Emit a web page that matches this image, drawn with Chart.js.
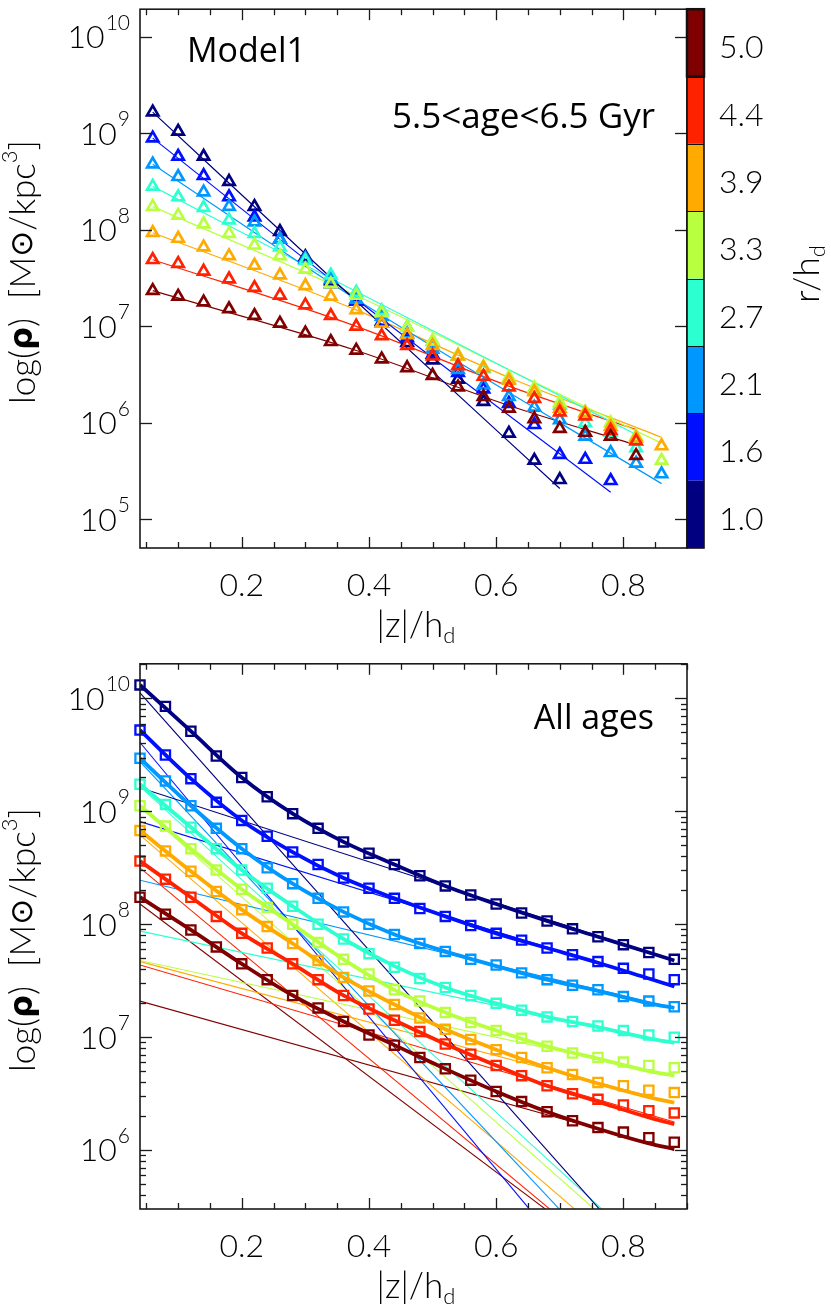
<!DOCTYPE html>
<html><head><meta charset="utf-8">
<script src="https://cdn.jsdelivr.net/npm/chart.js@4.4.1/dist/chart.umd.min.js"></script>
<style>
html,body{margin:0;padding:0;background:#fff;}
#wrap{position:relative;width:831px;height:1309px;overflow:hidden;}
#c1{position:absolute;left:0;top:0;}
#c2{position:absolute;left:0;top:655px;}
</style></head><body>
<div id="wrap"><canvas id="c1" width="831" height="655"></canvas><canvas id="c2" width="831" height="654"></canvas></div>
<script>
// ---------- categories / colour scale ----------
const radii = ['1.0','1.6','2.1','2.7','3.3','3.9','4.4','5.0'];
const colors = ['#000080','#0010ff','#0098ff','#2cffd0','#b8ff40','#ffaa00','#ff2200','#800000'];
const xTickLabels = [0.2, 0.4, 0.6, 0.8];

// ---------- top panel: 5.5<age<6.5 Gyr, log10(rho) ----------
const zTop = [0.06,0.10,0.14,0.18,0.22,0.26,0.30,0.34,0.38,0.42,0.46,0.50,0.54,0.58,0.62,0.66,0.70,0.74,0.78,0.82,0.86];
const topR10 = [9.22,9.02,8.76,8.50,8.24,7.98,7.72,7.47,7.26,7.03,6.83,6.65,6.45,6.22,5.89,5.61,5.41];
const topR16 = [8.95,8.76,8.56,8.34,8.13,7.90,7.69,7.44,7.26,7.05,6.88,6.71,6.52,6.35,6.20,5.98,5.67,5.62,5.40];
const topR21 = [8.68,8.55,8.39,8.24,8.08,7.90,7.70,7.49,7.28,7.10,6.92,6.76,6.55,6.39,6.27,6.16,6.03,5.86,5.69,5.58,5.47];
const topR27 = [8.45,8.34,8.23,8.10,7.96,7.82,7.68,7.53,7.35,7.16,6.99,6.84,6.69,6.56,6.45,6.33,6.18,6.00,5.90,5.74];
const topR33 = [8.24,8.15,8.06,7.96,7.84,7.73,7.59,7.44,7.32,7.14,6.99,6.85,6.70,6.58,6.47,6.36,6.21,6.11,6.00,5.86,5.61];
const topR39 = [7.97,7.91,7.82,7.73,7.63,7.53,7.42,7.31,7.17,7.03,6.91,6.80,6.69,6.57,6.44,6.32,6.15,6.10,5.96,5.84,5.76];
const topR44 = [7.69,7.65,7.57,7.49,7.40,7.32,7.22,7.11,7.00,6.90,6.80,6.69,6.59,6.48,6.37,6.25,6.11,6.07,5.92,5.81];
const topR50 = [7.37,7.31,7.25,7.18,7.11,7.03,6.93,6.84,6.75,6.66,6.57,6.49,6.37,6.27,6.15,6.04,5.94,5.90,5.86,5.66];
// top panel fits (z, log10 rho)
const topFitZ10 = [0.06,0.38,0.70],      topFit10 = [9.22,7.26,5.32];
const topFitZ16 = [0.06,0.38,0.78],      topFit16 = [8.95,7.28,5.28];
const topFitZ21 = [0.06,0.38,0.86],      topFit21 = [8.68,7.28,5.37];
const topFitZ27 = [0.06,0.38,0.62,0.82], topFit27 = [8.45,7.36,6.55,5.88];
const topFitZ33 = [0.06,0.38,0.62,0.86], topFit33 = [8.24,7.32,6.55,5.79];
const topFitZ39 = [0.06,0.38,0.62,0.86], topFit39 = [7.97,7.17,6.47,5.85];
const topFitZ44 = [0.06,0.38,0.62,0.82], topFit44 = [7.69,7.00,6.38,5.93];
const topFitZ50 = [0.06,0.38,0.62,0.82], topFit50 = [7.37,6.75,6.18,5.77];

// ---------- bottom panel: all ages, log10(rho) ----------
const zBot = [0.04,0.08,0.12,0.16,0.20,0.24,0.28,0.32,0.36,0.40,0.44,0.48,0.52,0.56,0.60,0.64,0.68,0.72,0.76,0.80,0.84,0.88];
const botR10 = [10.12,9.93,9.71,9.49,9.30,9.13,8.98,8.85,8.73,8.63,8.53,8.43,8.34,8.26,8.18,8.10,8.03,7.96,7.89,7.82,7.75,7.69];
const botR16 = [9.72,9.50,9.29,9.08,8.92,8.78,8.64,8.53,8.41,8.32,8.23,8.14,8.07,7.99,7.92,7.86,7.79,7.73,7.67,7.61,7.56,7.51];
const botR21 = [9.47,9.27,9.05,8.85,8.67,8.50,8.36,8.23,8.11,8.00,7.91,7.83,7.76,7.69,7.64,7.57,7.51,7.46,7.42,7.36,7.32,7.27];
const botR27 = [9.24,9.06,8.86,8.67,8.48,8.32,8.16,8.00,7.87,7.74,7.62,7.52,7.44,7.37,7.30,7.24,7.18,7.14,7.10,7.06,7.02,7.00];
const botR33 = [9.05,8.87,8.67,8.48,8.31,8.15,8.00,7.84,7.69,7.56,7.42,7.32,7.22,7.13,7.06,6.99,6.92,6.86,6.82,6.78,6.75,6.73];
const botR39 = [8.83,8.65,8.47,8.29,8.13,7.98,7.83,7.68,7.53,7.41,7.29,7.17,7.07,6.98,6.89,6.82,6.73,6.67,6.60,6.57,6.53,6.51];
const botR44 = [8.56,8.40,8.24,8.07,7.92,7.79,7.65,7.51,7.37,7.25,7.15,7.05,6.94,6.85,6.75,6.66,6.57,6.50,6.45,6.40,6.35,6.33];
const botR50 = [8.24,8.09,7.95,7.80,7.65,7.51,7.37,7.26,7.14,7.02,6.93,6.82,6.72,6.62,6.52,6.43,6.34,6.26,6.20,6.16,6.11,6.07];
// total fits (thick lines)
const zBotFit = [0.04,0.12,0.20,0.28,0.36,0.44,0.52,0.60,0.68,0.76,0.84,0.88];
const fitR10 = [10.12,9.71,9.30,8.98,8.73,8.53,8.34,8.18,8.03,7.89,7.75,7.68];
const fitR16 = [9.72,9.29,8.92,8.64,8.41,8.23,8.07,7.92,7.79,7.66,7.52,7.45];
const fitR21 = [9.47,9.05,8.67,8.36,8.11,7.91,7.76,7.63,7.51,7.41,7.30,7.26];
const fitR27 = [9.24,8.86,8.48,8.16,7.87,7.63,7.44,7.30,7.18,7.09,6.99,6.95];
const fitR33 = [9.05,8.67,8.31,8.00,7.69,7.42,7.22,7.06,6.92,6.81,6.70,6.66];
const fitR39 = [8.83,8.47,8.13,7.83,7.53,7.29,7.07,6.89,6.73,6.59,6.47,6.42];
const fitR44 = [8.56,8.24,7.92,7.65,7.37,7.15,6.94,6.75,6.57,6.43,6.29,6.23];
const fitR50 = [8.24,7.95,7.65,7.37,7.14,6.93,6.72,6.52,6.34,6.19,6.06,6.01];
// single components (straight lines): thin disk (steep) and thick disk (shallow)
const thinStartZ = 0.04;
const thinStartLog = [10.05,9.61,9.44,9.22,9.04,8.79,8.50,8.18];
const thinEndZ    = [0.762,0.652,0.699,0.766,0.754,0.723,0.684,0.677];
const thinEndLog  = 5.48;
const thickStartLog = [9.21,8.91,8.39,7.94,7.68,7.67,7.64,7.32];
const thickEndZ = 0.88;
const thickEndLog = [7.68,7.45,7.26,6.95,6.66,6.42,6.25,6.00];

// ---------- helpers ----------
const topLogs = [topR10,topR16,topR21,topR27,topR33,topR39,topR44,topR50];
const topFitZs = [topFitZ10,topFitZ16,topFitZ21,topFitZ27,topFitZ33,topFitZ39,topFitZ44,topFitZ50];
const topFits = [topFit10,topFit16,topFit21,topFit27,topFit33,topFit39,topFit44,topFit50];
const botLogs = [botR10,botR16,botR21,botR27,botR33,botR39,botR44,botR50];
const botFits = [fitR10,fitR16,fitR21,fitR27,fitR33,fitR39,fitR44,fitR50];
function pts(zs, logs){ return logs.map((v,i)=>({x:zs[i], y:Math.pow(10,v)})); }

const TICKF = '300 32px Lato';
const EXPF  = '300 21px Lato';
const TITLEF = '300 35px Lato';

function drawRuns(ctx, runs, cx, cy, rot){
  ctx.save();
  ctx.translate(cx, cy); ctx.rotate(rot||0);
  let w=0; runs.forEach(r=>{ctx.font=r.f; r.w=ctx.measureText(r.t).width; w+=r.w;});
  let x=-w/2;
  ctx.textBaseline='middle'; ctx.textAlign='left'; ctx.fillStyle='#000';
  runs.forEach(r=>{ctx.font=r.f; ctx.fillText(r.t, x, r.dy||0); x+=r.w;});
  ctx.restore();
}

const idlPlugin = {
  id:'idl',
  afterDraw(chart, args, o){
    const ctx=chart.ctx, a=chart.chartArea, xs=chart.scales.x, ys=chart.scales.y;
    ctx.save();
    ctx.strokeStyle='#1a1a1a';
    const line=(x1,y1,x2,y2)=>{ctx.beginPath();ctx.moveTo(x1,y1);ctx.lineTo(x2,y2);ctx.stroke();};
    // x ticks (top & bottom, inward)
    ctx.lineWidth=1.3;
    for(let k=1;k<=18;k++){
      const v=k*0.05; if(v<xs.min-1e-9||v>xs.max+1e-9) continue;
      const px=Math.round(xs.getPixelForValue(v))+0.5;
      const L=(k%4===0)?11:6;
      line(px,a.bottom,px,a.bottom-L); line(px,a.top,px,a.top+L);
    }
    // y ticks (left & right, inward)
    const lmin=Math.floor(Math.log10(ys.min)), lmax=Math.ceil(Math.log10(ys.max));
    for(let p=lmin;p<=lmax;p++){
      for(let m=1;m<=9;m++){
        if(m>1 && !o.minorY) continue;
        const v=m*Math.pow(10,p); if(v<ys.min||v>ys.max) continue;
        const py=Math.round(ys.getPixelForValue(v))+0.5;
        const L=(m===1)?12:6;
        line(a.left,py,a.left+L,py); line(a.right,py,a.right-L,py);
      }
    }
    // frame
    ctx.lineWidth=1.6;
    ctx.strokeRect(a.left, a.top, a.right-a.left, a.bottom-a.top);
    // y tick labels 10^p
    ctx.fillStyle='#000'; ctx.textBaseline='middle'; ctx.textAlign='left';
    for(let p=lmin;p<=lmax;p++){
      const v=Math.pow(10,p); if(v<ys.min||v>ys.max) continue;
      const py=ys.getPixelForValue(v)+1;
      ctx.font=TICKF; const mw=ctx.measureText('10').width;
      ctx.font=EXPF; const ew=ctx.measureText(String(p)).width;
      const x0=a.left-11-ew-mw;
      ctx.font=TICKF; ctx.fillText('10', x0, py);
      ctx.font=EXPF; ctx.fillText(String(p), x0+mw+1, py-15);
    }
    // x tick labels
    ctx.textAlign='center'; ctx.font=TICKF;
    xTickLabels.forEach(v=>{ ctx.fillText(v.toFixed(1), xs.getPixelForValue(v), a.bottom+38); });
    // axis titles
    drawRuns(ctx,[{t:'|z|/h',f:TITLEF},{t:'d',f:'300 22px Lato',dy:10}], 416, a.bottom+78, 0);
    drawRuns(ctx,[{t:'log(',f:TITLEF},{t:'ρ',f:'bold 32px "DejaVu Sans"'},{t:')  [M',f:TITLEF},
                  {t:'⊙',f:'31px "DejaVu Sans"'},{t:'/kpc',f:TITLEF},{t:'3',f:'300 22px Lato',dy:-14},{t:']',f:TITLEF}],
             24, o.ytitleY, -Math.PI/2);
    // annotations
    ctx.textBaseline='alphabetic';
    (o.notes||[]).forEach(n=>{ ctx.font=n.f; ctx.textAlign=n.align; ctx.fillText(n.t, n.x, n.y); });
    // colour bar
    if(o.colorbar){
      const x0=a.right, x1=a.right+17, n=radii.length, h=(a.bottom-a.top)/n;
      for(let i=0;i<n;i++){
        const idx=n-1-i, y0=a.top+i*h;
        ctx.fillStyle=colors[idx]; ctx.fillRect(x0,y0,x1-x0,h);
      }
      ctx.strokeStyle='#111'; ctx.lineWidth=1;
      for(let i=1;i<n;i++){ const y=Math.round(a.top+i*h)+0.5; line(x0,y,x1,y); }
      ctx.lineWidth=1.6; ctx.strokeRect(x0,a.top,x1-x0,a.bottom-a.top);
      ctx.lineWidth=2.5; ctx.strokeRect(x0,a.top,x1-x0,h);
      ctx.fillStyle='#000'; ctx.font=TICKF; ctx.textAlign='left'; ctx.textBaseline='middle';
      for(let i=0;i<n;i++){ const idx=n-1-i; ctx.fillText(radii[idx], x1+15, a.top+i*h+h/2+5); }
      drawRuns(ctx,[{t:'r/h',f:TITLEF},{t:'d',f:'300 22px Lato',dy:10}], 808, 274, -Math.PI/2);
    }
    ctx.restore();
  }
};

Chart.defaults.animation=false;
Chart.defaults.events=[];

// ---------- top chart ----------
const topDatasets=[];
for(let i=0;i<8;i++){
  topDatasets.push({type:'line', data:pts(topFitZs[i], topFits[i]), borderColor:colors[i], borderWidth:1.2,
    pointRadius:0, fill:false, cubicInterpolationMode:'monotone', order:40+i});
  topDatasets.push({type:'line', data:pts(zTop, topLogs[i]), showLine:false, pointStyle:'triangle',
    pointRadius:6.5, pointBorderWidth:2.7, pointBorderColor:colors[i], pointBackgroundColor:'rgba(0,0,0,0)',
    order:10+(7-i), clip:false});
}
new Chart(document.getElementById('c1'),{
  type:'line', data:{datasets:topDatasets},
  options:{responsive:false, layout:{padding:{left:140,right:144,top:2,bottom:107}},
    scales:{x:{type:'linear',min:0.04,max:0.9,display:false}, y:{type:'logarithmic',min:Math.pow(10,4.703),max:Math.pow(10,10.286),display:false}},
    plugins:{legend:{display:false},tooltip:{enabled:false},
      idl:{minorY:false, colorbar:true, ytitleY:272,
        notes:[{t:'Model1',x:187,y:62,align:'left',f:'34px "Open Sans"'},
               {t:'5.5<age<6.5 Gyr',x:655,y:128,align:'right',f:'35px "Open Sans"'}]}}},
  plugins:[idlPlugin]
});

// ---------- bottom chart ----------
const botDatasets=[];
for(let i=0;i<8;i++){
  botDatasets.push({type:'line', data:[{x:thinStartZ,y:Math.pow(10,thinStartLog[i])},{x:thinEndZ[i],y:Math.pow(10,thinEndLog)}],
    borderColor:colors[i], borderWidth:1.1, pointRadius:0, fill:false, order:60+i});
  botDatasets.push({type:'line', data:[{x:thinStartZ,y:Math.pow(10,thickStartLog[i])},{x:thickEndZ,y:Math.pow(10,thickEndLog[i])}],
    borderColor:colors[i], borderWidth:1.1, pointRadius:0, fill:false, order:60+i});
  botDatasets.push({type:'line', data:pts(zBotFit, botFits[i]), borderColor:colors[i], borderWidth:3.8,
    pointRadius:0, fill:false, cubicInterpolationMode:'monotone', order:30+(7-i)});
  botDatasets.push({type:'line', data:pts(zBot, botLogs[i]), showLine:false, pointStyle:'rect',
    pointRadius:6.5, pointBorderWidth:2.3, pointBorderColor:colors[i], pointBackgroundColor:'rgba(0,0,0,0)',
    order:10+(7-i), clip:false});
}
new Chart(document.getElementById('c2'),{
  type:'line', data:{datasets:botDatasets},
  options:{responsive:false, layout:{padding:{left:140,right:144,top:7,bottom:100}},
    scales:{x:{type:'linear',min:0.04,max:0.9,display:false}, y:{type:'logarithmic',min:Math.pow(10,5.479),max:Math.pow(10,10.307),display:false}},
    plugins:{legend:{display:false},tooltip:{enabled:false},
      idl:{minorY:true, colorbar:false, ytitleY:285,
        notes:[{t:'All ages',x:654,y:74,align:'right',f:'34px "Open Sans"'}]}}},
  plugins:[idlPlugin]
});
</script>
</body></html>
